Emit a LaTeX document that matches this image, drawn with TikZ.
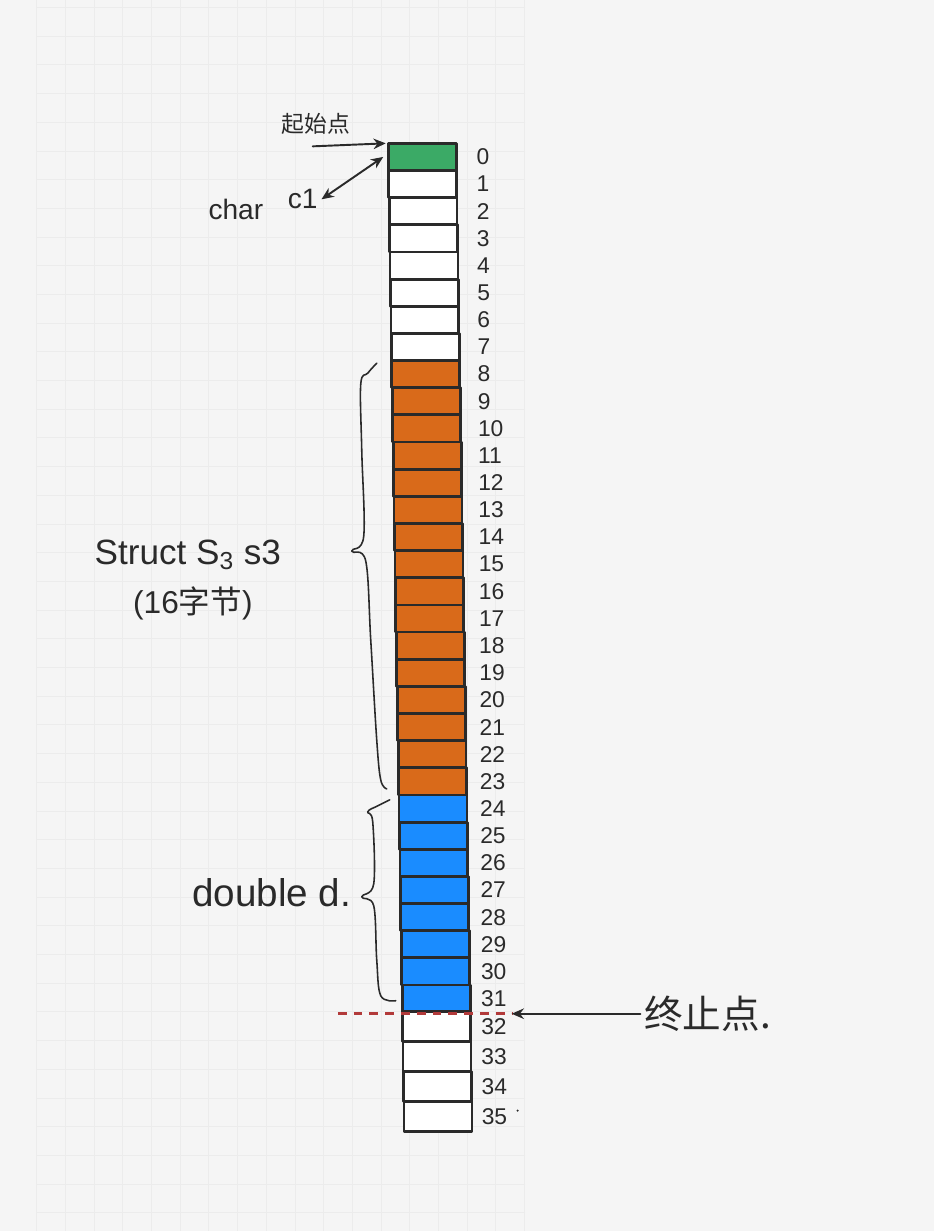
\documentclass[tikz,border=0pt]{standalone}
\usepackage{fontspec}
\setmainfont{Liberation Sans}
\newfontfamily\cjk{Noto Sans CJK SC}
\usetikzlibrary{arrows.meta}
\definecolor{paper}{HTML}{F5F5F5}
\definecolor{gridln}{HTML}{ECECEC}
\definecolor{ink}{HTML}{2A2A2A}
\definecolor{cgreen}{HTML}{3BAA66}
\definecolor{corange}{HTML}{D96A1A}
\definecolor{cblue}{HTML}{1A8CFF}
\definecolor{cutred}{HTML}{B23A3A}
\begin{document}
\begin{tikzpicture}[x=0.02cm, y=-0.02cm, line join=round, line cap=round, >={Stealth[length=7pt,width=6pt]},
	cell/.style={draw=ink, line width=1.6pt, minimum width=1.36cm, inner sep=0pt, outer sep=0pt},
	num/.style={anchor=west, inner sep=0pt, text=ink, font=\fontsize{13}{13}\selectfont},
	hand/.style={text=ink, inner sep=2pt},
	brace/.style={draw=ink, line width=0.9pt},
	pointer/.style={draw=ink, line width=1.1pt}]
	\fill[paper] (0,0) rectangle (935,1231);
	\foreach \k in {0,...,17}
		\draw[gridln, line width=0.5pt] (36.7+28.72*\k,0) -- (36.7+28.72*\k,1231);
	\foreach \k in {0,...,42}
		\draw[gridln, line width=0.5pt] (36.7,7+28.72*\k) -- (525,7+28.72*\k);
	% memory cells 0..35
	\foreach \i in {0,...,35}{
		\pgfmathsetmacro\h{(\i<32) ? 27.17 : 30}
		\pgfmathsetmacro\yc{(\i<32) ? 143+27.17*\i+\h/2 : 1012+30*(\i-32)+\h/2}
		\pgfmathsetmacro\xc{422.5+0.45*\i}
		\pgfmathsetmacro\gap{(20-0.3*\i)*0.02}
		\def\fc{white}
		\ifnum\i=0 \def\fc{cgreen}\fi
		\ifnum\i>7 \ifnum\i<24 \def\fc{corange}\fi\fi
		\ifnum\i>23 \ifnum\i<32 \def\fc{cblue}\fi\fi
		\node[cell, fill=\fc, minimum height=\h*0.02cm] (c\i) at (\xc,\yc) {};
		\node[num] (n\i) at ([xshift=\gap cm]c\i.east) {\i};
	}
	\fill[ink] (518,1111) circle (1.2);
	% start
	\node[hand, font=\cjk\fontsize{13}{13}\selectfont] (start) at (316,124) {起始点};
	\coordinate (sfrom) at (313,146);
	\draw[pointer, ->] (sfrom) -- ([xshift=-0.05cm]c0.north west);
	\node[hand, font=\fontsize{16}{16}\selectfont] (char) at (236,209) {char};
	\node[hand, font=\fontsize{16}{16}\selectfont] (cone) at (303,199) {c1};
	\draw[pointer, <->] (cone.east) -- ([xshift=-0.1cm]c0.west);
	% struct s3
	\node[hand, font=\fontsize{20}{20}\selectfont] (s3) at (188,555) {Struct S\textsubscript{3} s3};
	\node[hand, font=\fontsize{18}{18}\selectfont] (size) at (193,603) {(16{\cjk 字节})};
	\draw[brace] plot[smooth, tension=0.6] coordinates {(377,363) (368,373) (361,384) (362,450) (364,536) (352,551) (366,561) (371,640) (377,740) (381,780) (387,789)};
	% double d
	\node[hand, font=\fontsize{22}{22}\selectfont] (dd) at (272,893) {double d.};
	\draw[brace] plot[smooth, tension=0.6] coordinates {(390,800) (378,806) (368,812) (373,822) (374,884) (362,897) (374,906) (377,960) (381,996) (396,1001)};
	% end
	\coordinate (cutL) at (338,1014);
	\coordinate (cutR) at (512,1014);
	\draw[cutred, line width=1.5pt, line cap=butt, dash pattern=on 5pt off 4pt] (cutL) -- (cutR);
	\node[hand, font=\cjk\fontsize{22}{22}\selectfont] (stop) at (708,1014) {终止点.};
	\draw[pointer, ->] (stop.west) -- (cutR);
\end{tikzpicture}
\end{document}
